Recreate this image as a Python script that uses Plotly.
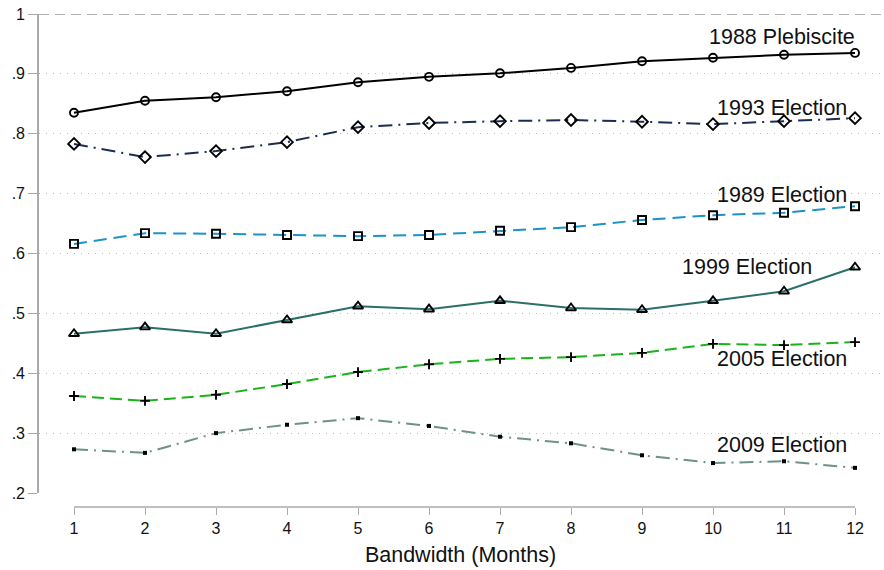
import plotly.graph_objects as go

bandwidth = [1, 2, 3, 4, 5, 6, 7, 8, 9, 10, 11, 12]

plebiscite_1988 = [0.835, 0.855, 0.861, 0.871, 0.886, 0.895, 0.901, 0.910, 0.921, 0.927, 0.932, 0.935]
election_1993 = [0.783, 0.761, 0.771, 0.786, 0.811, 0.818, 0.821, 0.823, 0.820, 0.816, 0.821, 0.826]
election_1989 = [0.616, 0.634, 0.633, 0.631, 0.629, 0.631, 0.638, 0.644, 0.656, 0.664, 0.668, 0.679]
election_1999 = [0.466, 0.477, 0.466, 0.489, 0.512, 0.507, 0.521, 0.509, 0.506, 0.521, 0.537, 0.577]
election_2005 = [0.362, 0.354, 0.364, 0.382, 0.402, 0.415, 0.424, 0.427, 0.434, 0.449, 0.447, 0.452]
election_2009 = [0.273, 0.267, 0.300, 0.314, 0.325, 0.312, 0.294, 0.283, 0.263, 0.250, 0.253, 0.242]

y_tick_vals = [0.2, 0.3, 0.4, 0.5, 0.6, 0.7, 0.8, 0.9, 1.0]
y_tick_text = [".2", ".3", ".4", ".5", ".6", ".7", ".8", ".9", "1"]

FONT = "Liberation Sans, Arial, sans-serif"

series = [
    # name, values, line color, dash, marker symbol, marker size, filled, label xshift, yshift
    ("1988 Plebiscite", plebiscite_1988, "#000000", "solid", "circle-open", 8, False, 2, 16),
    ("1993 Election", election_1993, "#1c2d52", "14px,6px,2px,6px", "diamond-open", 9, False, -6, 10),
    ("1989 Election", election_1989, "#1a93c9", "13px,7px", "square-open", 8, False, -6, 11),
    ("1999 Election", election_1999, "#2b6f6a", "solid", "triangle-up-open", 9, False, -41, 0),
    ("2005 Election", election_2005, "#1ab31a", "12px,6px", "cross-thin-open", 7, False, -6, -17),
    ("2009 Election", election_2009, "#6e918a", "14px,6px,2px,6px", "square", 4, True, -6, 23),
]

fig = go.Figure()
annotations = []
for name, vals, color, dash, sym, msize, filled, xs, ys in series:
    marker = dict(symbol=sym, size=msize, color="#000000",
                  line=dict(color="#000000", width=0 if filled else 1.9))
    fig.add_trace(go.Scatter(
        x=bandwidth, y=vals, mode="lines+markers", name=name,
        line=dict(color=color, width=2, dash=dash),
        marker=marker, showlegend=False, cliponaxis=False,
    ))
    annotations.append(dict(
        x=bandwidth[-1], y=vals[-1], xref="x", yref="y", text=name,
        showarrow=False, xanchor="right", yanchor="middle",
        xshift=xs, yshift=ys, font=dict(family=FONT, size=21.5, color="#111111"),
    ))

# reference line at 1
fig.add_shape(type="line", xref="paper", yref="y", x0=0, x1=1, y0=1, y1=1,
              line=dict(color="#999999", width=1.6, dash="10px,6px"), layer="below")
# x axis line spanning only the categories
fig.add_shape(type="line", xref="x", yref="paper", x0=min(bandwidth), x1=max(bandwidth),
              y0=0, y1=0, line=dict(color="#aaaaaa", width=1.6))

fig.update_layout(
    width=884, height=570,
    margin=dict(l=39, r=2, t=14, b=63),
    paper_bgcolor="white", plot_bgcolor="white",
    font=dict(family=FONT, color="#111111"),
    annotations=annotations,
    xaxis=dict(
        range=[0.507, 12.38], tickvals=bandwidth, ticktext=[str(b) for b in bandwidth],
        anchor="free", position=0, showline=False, showgrid=False, zeroline=False,
        ticks="outside", ticklen=7, tickwidth=1.4, tickcolor="#aaaaaa",
        tickfont=dict(size=16, family=FONT, color="#111111"),
        title=dict(text="Bandwidth (Months)", font=dict(size=21.5, family=FONT, color="#111111"), standoff=10),
    ),
    yaxis=dict(
        range=[0.2, 1.0], domain=[0.0284, 1], tickvals=y_tick_vals, ticktext=y_tick_text,
        showline=True, linecolor="#aaaaaa", linewidth=1.6,
        ticks="outside", ticklen=9, tickwidth=1.4, tickcolor="#aaaaaa",
        showgrid=True, gridcolor="#bbbbbb", gridwidth=1, griddash="1px,6px", zeroline=False,
        tickfont=dict(size=16, family=FONT, color="#111111"),
    ),
)

fig.write_html("out.html")
